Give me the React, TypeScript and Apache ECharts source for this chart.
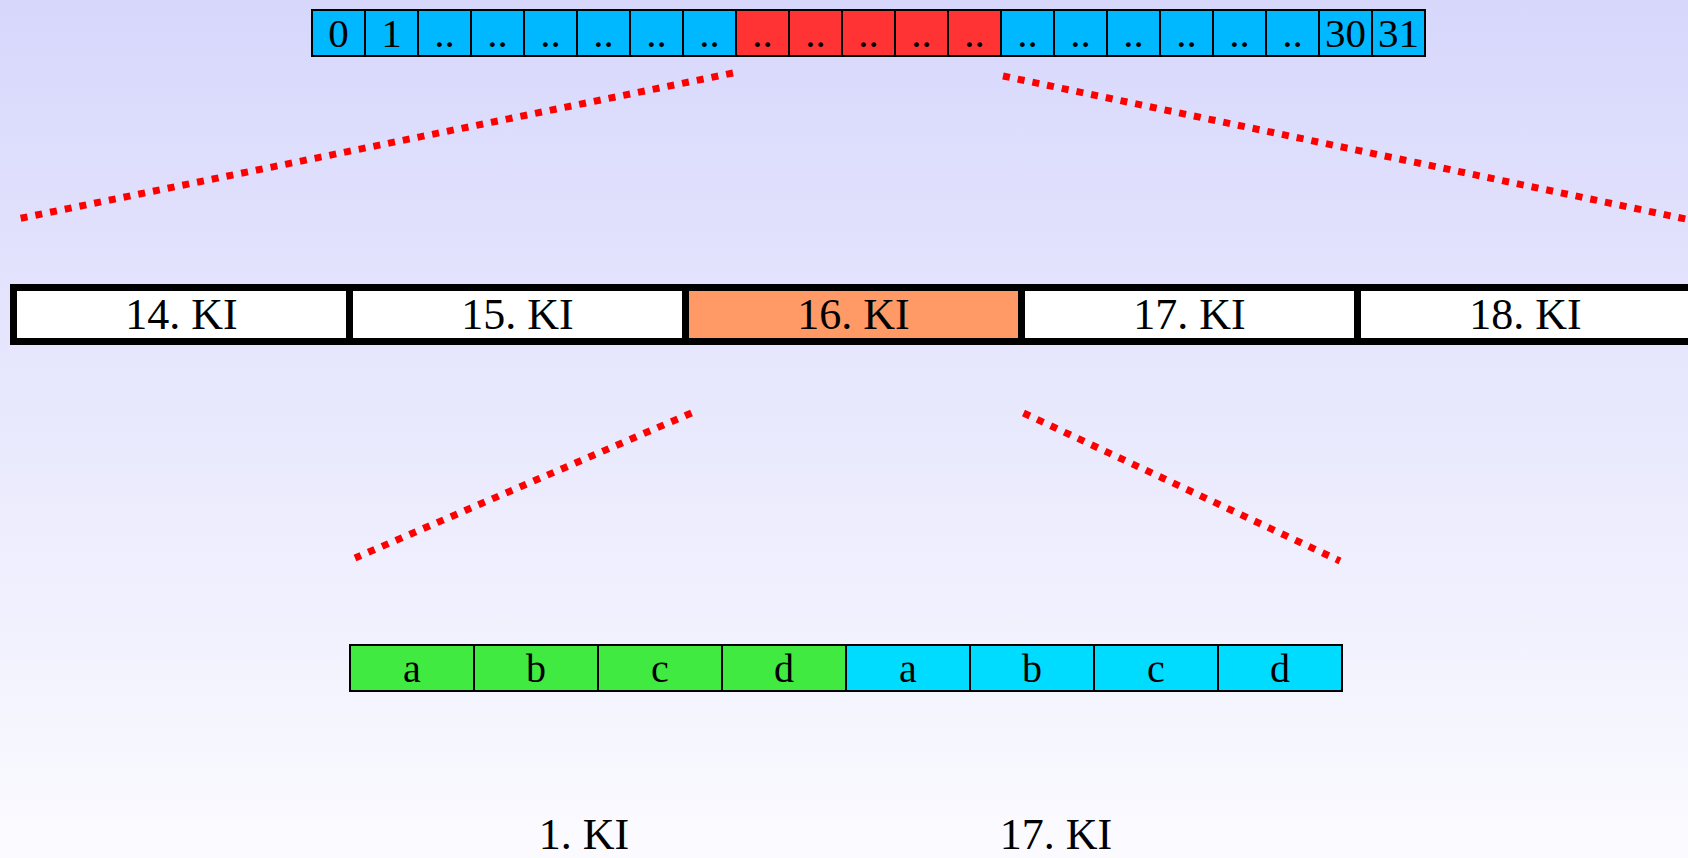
import React, { useEffect, useRef } from "react";
import * as echarts from "echarts";

// ---- data ----
const TOP_LABELS = [
  "0", "1",
  "..", "..", "..", "..", "..", "..",
  "..", "..", "..", "..", "..",
  "..", "..", "..", "..", "..", "..",
  "30", "31",
];
const TOP_HIGHLIGHT = [8, 9, 10, 11, 12];
const MID_LABELS = ["14. KI", "15. KI", "16. KI", "17. KI", "18. KI"];
const MID_HIGHLIGHT = 2;
const BOTTOM_LABELS = ["a", "b", "c", "d", "a", "b", "c", "d"];
const BOTTOM_GROUP = [0, 0, 0, 0, 1, 1, 1, 1];
const CAPTIONS = ["1. KI", "17. KI"];

// ---- layout / style ----
const W = 1688;
const H = 858;
const FONT = "'Liberation Serif', 'Times New Roman', serif";
const TOP = { x: 312, y: 9, w: 53, h: 48, stroke: 2, font: 41 };
const MID = { x: 13.5, y: 287.5, w: 336, h: 54, stroke: 7, font: 44 };
const BOT = { x: 350, y: 644, w: 124, h: 48, stroke: 2, font: 40 };
const CAPTION_X = [584, 1056];
const CAPTION_Y = 834;
const COLORS = {
  blue: "#00B8FF",
  red: "#FF3333",
  white: "#FFFFFF",
  orange: "#FF9966",
  green: "#40EA40",
  cyan: "#00DCFF",
  dots: "#FF0000",
};

type Item =
  | { kind: "cell"; x0: number; y0: number; x1: number; y1: number; fill: string; lw: number; label: string; fs: number }
  | { kind: "line"; x0: number; y0: number; x1: number; y1: number }
  | { kind: "text"; x0: number; y0: number; label: string; fs: number };

function buildItems(): Item[] {
  const items: Item[] = [];
  TOP_LABELS.forEach((label, i) => {
    items.push({
      kind: "cell",
      x0: TOP.x + i * TOP.w,
      y0: TOP.y + 1,
      x1: TOP.x + (i + 1) * TOP.w,
      y1: TOP.y + TOP.h - 1,
      fill: TOP_HIGHLIGHT.includes(i) ? COLORS.red : COLORS.blue,
      lw: TOP.stroke,
      label,
      fs: TOP.font,
    });
  });
  MID_LABELS.forEach((label, i) => {
    items.push({
      kind: "cell",
      x0: MID.x + i * MID.w,
      y0: MID.y,
      x1: MID.x + (i + 1) * MID.w,
      y1: MID.y + MID.h,
      fill: i === MID_HIGHLIGHT ? COLORS.orange : COLORS.white,
      lw: MID.stroke,
      label,
      fs: MID.font,
    });
  });
  BOTTOM_LABELS.forEach((label, i) => {
    items.push({
      kind: "cell",
      x0: BOT.x + i * BOT.w,
      y0: BOT.y + 1,
      x1: BOT.x + (i + 1) * BOT.w,
      y1: BOT.y + BOT.h - 1,
      fill: BOTTOM_GROUP[i] === 0 ? COLORS.green : COLORS.cyan,
      lw: BOT.stroke,
      label,
      fs: BOT.font,
    });
  });
  // connectors derived from the highlighted cells
  const hlLeft = TOP.x + TOP_HIGHLIGHT[0] * TOP.w;
  const hlRight = TOP.x + (TOP_HIGHLIGHT[TOP_HIGHLIGHT.length - 1] + 1) * TOP.w;
  const topBottom = TOP.y + TOP.h;
  const midTop = MID.y - MID.stroke / 2;
  const midBottom = MID.y + MID.h + MID.stroke / 2;
  const midL = MID.x + MID_HIGHLIGHT * MID.w;
  const midR = midL + MID.w;
  const botL = BOT.x;
  const botR = BOT.x + BOTTOM_LABELS.length * BOT.w;
  items.push({ kind: "line", x0: hlLeft - 3, y0: topBottom + 16, x1: 17, y1: midTop - 65 });
  items.push({ kind: "line", x0: hlRight + 2, y0: topBottom + 19, x1: W + 12, y1: midTop - 62 });
  items.push({ kind: "line", x0: midL + 6, y0: midBottom + 68, x1: botL + 5, y1: BOT.y - 86 });
  items.push({ kind: "line", x0: midR + 2, y0: midBottom + 68, x1: botR - 2, y1: BOT.y - 83 });
  CAPTIONS.forEach((label, i) => {
    items.push({ kind: "text", x0: CAPTION_X[i], y0: CAPTION_Y, label, fs: 44 });
  });
  return items;
}

export default function App() {
  const ref = useRef<HTMLDivElement>(null);
  useEffect(() => {
    if (!ref.current) return;
    const chart = echarts.init(ref.current, null, { renderer: "svg" });
    const items = buildItems();
    const option: any = {
      animation: false,
      backgroundColor: {
        type: "linear",
        x: 0,
        y: 0,
        x2: 0,
        y2: 1,
        colorStops: [
          { offset: 0, color: "#D7D7FC" },
          { offset: 1, color: "#FBFBFF" },
        ],
      },
      grid: { left: 0, right: 0, top: 0, bottom: 0 },
      xAxis: { type: "value", min: 0, max: W, show: false },
      yAxis: { type: "value", min: 0, max: H, inverse: true, show: false },
      series: [
        {
          type: "custom",
          clip: false,
          silent: true,
          data: items.map((it) => [it.x0, it.y0]),
          encode: { x: 0, y: 1 },
          renderItem: (params: any, api: any) => {
            const it = items[params.dataIndex];
            if (it.kind === "cell") {
              const p0 = api.coord([it.x0, it.y0]);
              const p1 = api.coord([it.x1, it.y1]);
              return {
                type: "group",
                children: [
                  {
                    type: "rect",
                    shape: { x: p0[0], y: p0[1], width: p1[0] - p0[0], height: p1[1] - p0[1] },
                    style: { fill: it.fill, stroke: "#000000", lineWidth: it.lw },
                  },
                  {
                    type: "text",
                    style: {
                      text: it.label,
                      x: (p0[0] + p1[0]) / 2,
                      y: (p0[1] + p1[1]) / 2,
                      align: "center",
                      verticalAlign: "middle",
                      fill: "#000000",
                      fontSize: it.fs,
                      lineHeight: it.fs,
                      fontFamily: FONT,
                    },
                  },
                ],
              };
            }
            if (it.kind === "line") {
              const p0 = api.coord([it.x0, it.y0]);
              const p1 = api.coord([it.x1, it.y1]);
              return {
                type: "line",
                shape: { x1: p0[0], y1: p0[1], x2: p1[0], y2: p1[1] },
                style: {
                  stroke: COLORS.dots,
                  lineWidth: 7,
                  lineDash: [7, 8],
                  lineCap: "butt",
                },
              };
            }
            const p = api.coord([it.x0, it.y0]);
            return {
              type: "text",
              style: {
                text: it.label,
                x: p[0],
                y: p[1],
                align: "center",
                verticalAlign: "middle",
                fill: "#000000",
                fontSize: it.fs,
                lineHeight: 40,
                fontFamily: FONT,
              },
            };
          },
        },
      ],
    };
    chart.setOption(option);
    return () => chart.dispose();
  }, []);
  return (
    <div
      ref={ref}
      style={{ position: "fixed", left: 0, top: 0, width: W, height: H }}
    />
  );
}
